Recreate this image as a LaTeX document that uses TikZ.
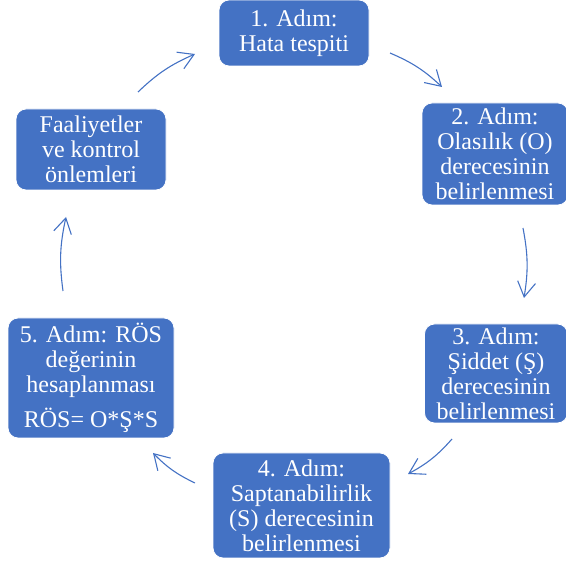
\documentclass[tikz,border=0pt]{standalone}
\usepackage{fontspec}
\setmainfont{Liberation Serif}
\usetikzlibrary{arrows.meta}
\definecolor{officeblue}{HTML}{4472C4}
\begin{document}
\begin{tikzpicture}[x=1pt,y=-1pt,
  stepbox/.style={fill=officeblue, draw=white, line width=0.8pt, rounded corners=10pt,
    text=white, align=center, inner sep=0pt, font=\fontsize{24}{25}\selectfont},
  cyc/.style={draw=officeblue, line width=1.1pt, -{Straight Barb[length=15pt,width=18pt]}, bend left=10}]
\useasboundingbox (0,0) rectangle (566,564);
\node[stepbox, minimum width=150pt, minimum height=66pt] (s1) at (294,33) {1. Adım:\\Hata tespiti};
\node[stepbox, minimum width=146pt, minimum height=102pt] (s2) at (495,154) {2. Adım:\\Olasılık (O)\\derecesinin\\belirlenmesi};
\node[stepbox, minimum width=143pt, minimum height=99pt] (s3) at (496,373.5) {3. Adım:\\Şiddet (Ş)\\derecesinin\\belirlenmesi};
\node[stepbox, minimum width=177pt, minimum height=105pt] (s4) at (301.5,505.5) {4. Adım:\\Saptanabilirlik\\(S) derecesinin\\belirlenmesi};
\node[stepbox, minimum width=166pt, minimum height=120pt] (s5) at (91,378) {5. Adım: RÖS\\değerinin\\hesaplanması\\[10pt]RÖS= O*Ş*S};
\node[stepbox, minimum width=150pt, minimum height=81pt] (s6) at (91,149.5) {Faaliyetler\\ve kontrol\\önlemleri};
\coordinate (a61s) at (138,92);  \coordinate (a61e) at (195,54);
\coordinate (a12s) at (390,53);  \coordinate (a12e) at (442,87);
\coordinate (a23s) at (523,228); \coordinate (a23e) at (524,298);
\coordinate (a34s) at (452,439); \coordinate (a34e) at (408,474);
\coordinate (a45s) at (195,483); \coordinate (a45e) at (153,453);
\coordinate (a56s) at (63,291);  \coordinate (a56e) at (66,217);
\draw[cyc] (a61s) to (a61e);
\draw[cyc] (a12s) to (a12e);
\draw[cyc] (a23s) to (a23e);
\draw[cyc] (a34s) to (a34e);
\draw[cyc] (a45s) to (a45e);
\draw[cyc] (a56s) to (a56e);
\end{tikzpicture}
\end{document}
